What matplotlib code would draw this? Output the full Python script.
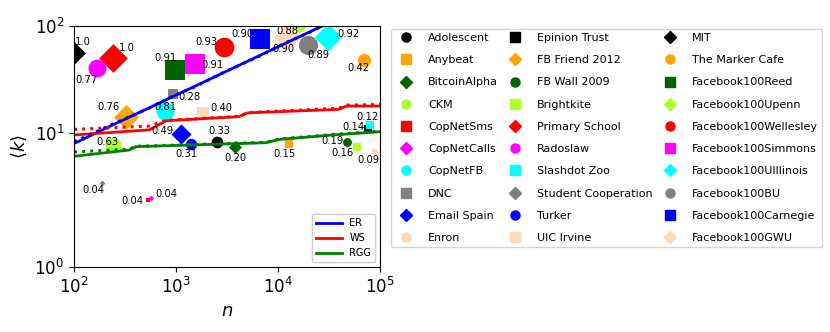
import matplotlib
matplotlib.use("Agg")
import matplotlib.pyplot as plt
from matplotlib.lines import Line2D

# networks, in legend order
names = ['Adolescent', 'Anybeat', 'BitcoinAlpha', 'CKM', 'CopNetSms', 'CopNetCalls',
         'CopNetFB', 'DNC', 'Email Spain', 'Enron', 'Epinion Trust', 'FB Friend 2012',
         'FB Wall 2009', 'Brightkite', 'Primary School', 'Radoslaw', 'Slashdot Zoo',
         'Student Cooperation', 'Turker', 'UIC Irvine', 'MIT', 'The Marker Cafe',
         'Facebook100Reed', 'Facebook100Upenn', 'Facebook100Wellesley',
         'Facebook100Simmons', 'Facebook100UIllinois', 'Facebook100BU',
         'Facebook100Carnegie', 'Facebook100GWU']
n_nodes = [2540, 12700, 3810, 239, 531, 565, 780, 929, 1120, 87900, 76200, 324,
           47400, 59200, 239, 169, 79200, 187, 1400, 1830, 94, 69700, 977, 16000,
           2955, 1535, 30900, 19700, 6670, 12300]
mean_k = [8.22, 7.77, 7.38, 7.66, 2.34, 2.46, 16.0, 23.0, 9.64, 6.77, 10.7, 14.1,
          8.22, 7.29, 49.5, 39.9, 11.7, 3.40, 7.83, 15.2, 55.2, 47.8, 38.5, 113,
          63.2, 43.8, 78.5, 66.0, 75.1, 77.6]
clust = ['0.33', '0.15', '0.20', '0.63', '0.04', '0.04', '0.81', '0.28', '0.49', '0.09',
         '0.14', '0.76', '0.19', '0.16', '1.0', '0.77', '0.12', '0.04', '0.31', '0.40',
         '1.0', '0.42', '0.91', '0.88', '0.93', '0.91', '0.92', '0.89', '0.90', '0.90']

# model curves (solid and dotted versions)
er_n = [100, 240, 550, 930, 1500, 3000, 6600, 12000, 20000, 31000, 47000]
er_k = [7.9, 11.8, 17.1, 21.7, 26.9, 36.8, 52.6, 68.9, 86.7, 105, 127]
er_k2 = [8.2, 12.0, 17.0, 21.9, 26.6, 37.0, 52.0, 69.5, 86.0, 106, 126]
ws_n = [100, 545, 800, 4140, 5050, 39600, 46500, 100000]
ws_k = [9.5, 10.6, 12.9, 14.1, 15.3, 16.5, 17.7, 17.7]
ws_k2 = [10.7, 11.5, 13.0, 14.2, 15.4, 16.9, 18.1, 18.3]
rgg_n = [100, 348, 405, 7600, 10300, 34400, 100000]
rgg_k = [6.0, 6.87, 7.38, 8.04, 8.64, 9.5, 10.2]
rgg_k2 = [6.6, 7.0, 7.45, 8.1, 8.7, 9.6, 10.3]

colors = ['black', 'orange', 'darkgreen', 'greenyellow', 'red', 'magenta',
          'cyan', 'grey', 'blue', 'peachpuff']
markers = ['o', 's', 'D']

# label offsets in pixels (dx right, dy down)
lab_off = [(1.6, -10.4), (-3.7, 9.5), (0.4, 11.3), (-5, -3.3), (-15.5, 0.8),
           (15.5, -3.2), (0, -4), (16.8, 3.3), (-18.3, -3), (-6.3, 8.8),
           (-14.8, -2.3), (-17.5, -9.2), (-14.8, -0.9), (-14.5, 5.5), (14, -10.5),
           (-11.1, 11.4), (-2, -8.3), (-8.7, 7.8), (-5, 9.8), (18.3, -5.6),
           (11.3, -11.6), (-5.7, 7.8), (-9.2, -12.2), (-11.3, 11.2), (-17.7, -4.7),
           (17.5, 0.5), (20.3, -2.5), (10.3, 10.3), (-17.7, -4.5), (-3.7, 11.3)]

fig = plt.figure(figsize=(8.3, 3.32), dpi=100)
ax = fig.add_axes([0.0892, 0.1967, 0.3687, 0.7259])

ax.plot(er_n, er_k, color='blue', lw=2, label='ER')
ax.plot(ws_n, ws_k, color='red', lw=2, label='WS')
ax.plot(rgg_n, rgg_k, color='green', lw=2, label='RGG')
ax.plot(er_n, er_k2, color='blue', lw=2.2, ls=':')
ax.plot(ws_n, ws_k2, color='red', lw=2.2, ls=':')
ax.plot(rgg_n, rgg_k2, color='green', lw=2.2, ls=':')

handles = []
for i, name in enumerate(names):
    c = colors[i % 10]
    m = markers[i % 3]
    ax.scatter(n_nodes[i], mean_k[i], s=215 * float(clust[i]), color=c, marker=m,
               linewidths=0)
    dx, dy = lab_off[i]
    ax.annotate(clust[i], (n_nodes[i], mean_k[i]), xytext=(dx * 0.72, -dy * 0.72),
                textcoords='offset points', ha='center', va='center', fontsize=7.2,
                annotation_clip=False)
    handles.append(Line2D([], [], ls='', marker=m, color=c, markersize=6.5, label=name))

ax.set_xscale('symlog')
ax.set_yscale('symlog')
ax.set_xlim(1e2, 1e5)
ax.set_ylim(1, 100)
ax.tick_params(labelsize=12)
ax.set_xlabel('$n$', fontsize=13)
ax.set_ylabel(r'$\langle k \rangle$', fontsize=13)

leg1 = ax.legend(loc='lower right', fontsize=7, handlelength=2.6)
ax.add_artist(leg1)
fig.legend(handles=handles, ncol=3, loc='upper left',
           bbox_to_anchor=(385 / 830, 1 - 23 / 332), fontsize=8,
           labelspacing=1.1, columnspacing=0.5, handletextpad=1.0)

fig.savefig('out.png', dpi=100)
